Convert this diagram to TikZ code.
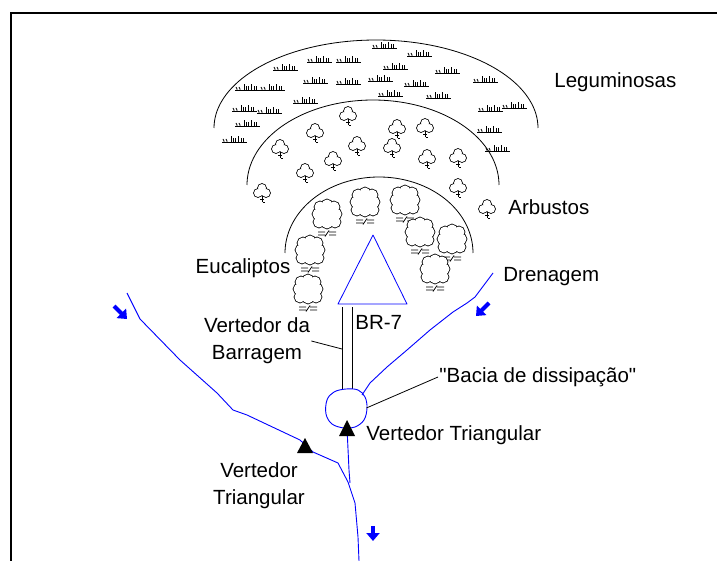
\documentclass[tikz,border=0pt]{standalone}
\usepackage{fontspec}
\setmainfont{Liberation Sans}
\usepackage{tikz}
\usetikzlibrary{arrows.meta}

% vegetation symbols (y runs downwards in the picture below)
\tikzset{
  grass/.pic={
    \draw[line width=1pt] (0,0) -- (25,0);
    \foreach \x in {2,5} \draw (\x,0) -- (\x,-2) -- ({\x-1},-4);
    \foreach \x/\h in {9/7,11/5,13/5,16/7,19/5,21/5} \draw (\x,0) -- (\x,-\h);
  },
  shrub/.pic={
    \foreach \a/\b in {-4/1,4/1,0/-4} \draw[line width=1.6pt] (\a,\b) circle[radius=4];
    \foreach \a/\b in {-4/1,4/1,0/-4} \fill[white] (\a,\b) circle[radius=4];
    \fill[white] (0,0) circle[radius=3.5];
    \draw (0,4.5) -- (0,10) (-2,7.5) -- (2,7.5) (0.5,10.5) -- (2.5,10.5);
  },
  eucalyptus/.pic={
    \foreach \a/\b in {-9/-3,-7/-10,0/-12,7/-10,9/-3,8/5,0/6,-8/5}
      \draw[line width=1.6pt] (\a,\b) circle[radius=5.5];
    \foreach \a/\b in {-9/-3,-7/-10,0/-12,7/-10,9/-3,8/5,0/6,-8/5}
      \fill[white] (\a,\b) circle[radius=5.5];
    \fill[white] (0,-3) circle[radius=9];
    \draw (-9,15) -- (-2,15) (2,15) -- (9,15)
          (-9,18) -- (-2,18) (2,18) -- (9,18)
          (-2,19.5) -- (2,13.5);
  },
}

\begin{document}
\begin{tikzpicture}[
  x=1pt, y=-1pt,
  line width=0.8pt,
  lbl/.style={font=\fontsize{20.5}{27}\selectfont, inner sep=1pt},
  stream/.style={blue, line width=0.9pt, line join=round},
  flow/.style={blue, line width=4pt, -{Triangle[length=8pt,width=13pt]}},
  weir/.style={fill=black},
]
\useasboundingbox (0,0) rectangle (717,561);

% ---- frame ----
\draw[line width=2pt] (11,561) -- (11,13) -- (717,13);

% ---- vegetation belts ----
\draw plot[domain=180:360, samples=80] ({376+162*cos(\x)}, {128+88*sin(\x)});
\draw plot[domain=180:360, samples=80] ({373+126*cos(\x)}, {185+85*sin(\x)});
\draw plot[domain=180:360, samples=80] ({379+94*cos(\x)}, {253+76*sin(\x)});

% grass (Leguminosas)
\foreach \gx/\gy in {372/49, 407/57, 307/63, 336/63, 273/71, 383/70, 435/74,
                     303/84, 336/85, 368/82, 404/87, 473/83, 235/91, 260/91,
                     378/97, 426/99, 293/104, 232/112, 257/114, 478/112,
                     502/109, 235/127, 222/143, 477/133, 485/152}
  \pic at (\gx,\gy) {grass};

% shrubs (Arbustos)
\foreach \sx/\sy in {348/115, 315/132, 397/128, 425/127, 280/148, 357/145,
                     392/147, 333/160, 427/158, 458/157, 305/172,
                     262/192, 458/187, 487/208}
  \pic at (\sx,\sy) {shrub};

% eucalyptus trees
\foreach \ex/\ey in {365/205, 405/203, 327/217, 420/235, 452/242,
                     310/253, 435/272, 308/292}
  \pic at (\ex,\ey) {eucalyptus};

% ---- dam and spillway ----
\coordinate (damL) at (338,304);
\coordinate (damT) at (373,235);
\coordinate (damR) at (407,304);
\draw[blue, line join=round] (damL) -- (damT) -- (damR) -- cycle;

\coordinate (spillA) at (342,307);
\coordinate (spillB) at (342,390);
\coordinate (spillC) at (352,307);
\coordinate (spillD) at (352,389);
\coordinate (spill)  at (342,349);
\draw (spillA) -- (spillB) (spillC) -- (spillD);

% dissipation basin
\node[circle, minimum size=40pt, inner sep=0] (basin) at (346,408) {};
\draw[stream] plot[smooth cycle, tension=0.6] coordinates {
  (346,389) (358,390) (365,397) (367,408) (364,420) (355,427)
  (344,428) (332,424) (326,414) (327,400) (334,392)};

% ---- streams ----
\draw[stream] (127,293) -- (140,319) -- (180,360) -- (217,393) -- (233,410)
  -- (247,415) -- (300,440) -- (313,452) -- (338,463) -- (348,482)
  -- (355,503) -- (358,537) -- (359,561);
\draw[stream] (347,428) -- (349,470) -- (350,483);
\draw[stream] (493,273) -- (475,297) -- (467,303) -- (453,312) -- (430,330)
  -- (407,350) -- (387,367) -- (370,383) -- (362,395);

% flow directions
\coordinate (fa1) at (114,306);  \coordinate (fa2) at (127,319);
\coordinate (fb1) at (489,303);  \coordinate (fb2) at (476,316);
\coordinate (fc1) at (373,526);  \coordinate (fc2) at (373,541);
\draw[flow] (fa1) -- (fa2);
\draw[flow] (fb1) -- (fb2);
\draw[flow] (fc1) -- (fc2);

% triangular weirs
\fill[weir] (339,436) -- (347,420) -- (355,436) -- cycle;
\fill[weir] (297,453) -- (305,438) -- (313,453) -- cycle;

% ---- labels ----
\node[lbl, anchor=west] (legum) at (553,82)  {Leguminosas};
\node[lbl, anchor=west] (arbus) at (507,207) {Arbustos};
\node[lbl]              (eucal) at (243,268) {Eucaliptos};
\node[lbl, anchor=west] (dren)  at (502,277) {Drenagem};
\node[lbl, anchor=west] (br7)   at (354,322) {BR-7};
\node[lbl, align=center] (vbar) at (257,341) {Vertedor da\\Barragem};
\node[lbl, anchor=west] (bacia) at (438,377) {\textquotedbl Bacia de dissipação\textquotedbl};
\node[lbl, anchor=west] (vtri1) at (365,435) {Vertedor Triangular};
\node[lbl, align=center] (vtri2) at (259,486) {Vertedor\\Triangular};

% leaders
\draw (vbar.east) -- (spill);
\draw (bacia.west) -- (basin.east);

\end{tikzpicture}
\end{document}
